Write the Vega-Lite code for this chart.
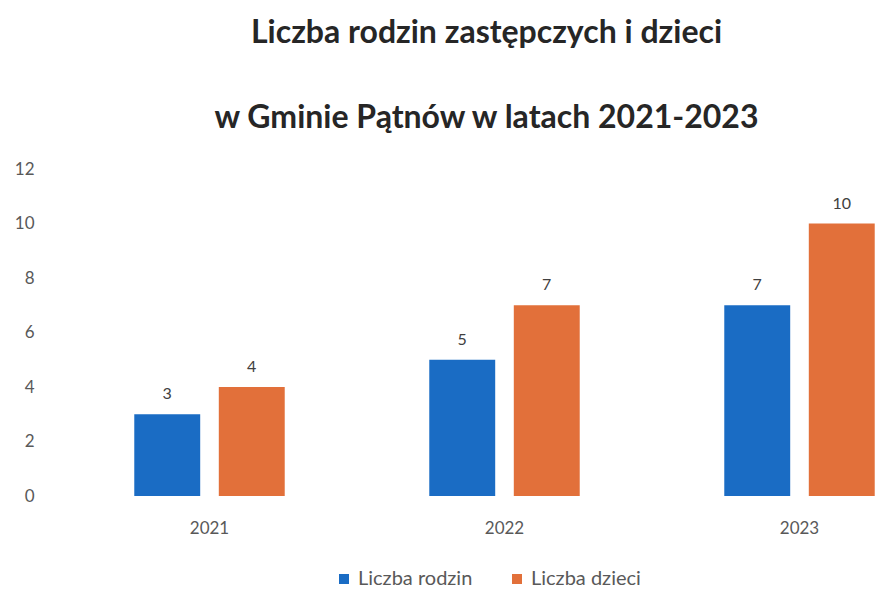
{
  "$schema": "https://vega.github.io/schema/vega-lite/v6.json",
  "width": 885,
  "height": 327,
  "autosize": {"type": "none"},
  "padding": {"left": 62, "top": 169, "right": 0, "bottom": 94},
  "background": "white",
  "title": {
    "text": ["Liczba rodzin zastępczych i dzieci", "w Gminie Pątnów w latach 2021-2023"],
    "font": "Lato",
    "fontSize": 32,
    "fontWeight": "bold",
    "color": "#262626",
    "lineHeight": 85,
    "anchor": "middle",
    "frame": "group",
    "dx": -18,
    "offset": 25
  },
  "config": {
    "view": {"stroke": null},
    "font": "Lato"
  },
  "data": {
    "values": [
      {"rok": "2021", "seria": "Liczba rodzin", "wartosc": 3},
      {"rok": "2021", "seria": "Liczba dzieci", "wartosc": 4},
      {"rok": "2022", "seria": "Liczba rodzin", "wartosc": 5},
      {"rok": "2022", "seria": "Liczba dzieci", "wartosc": 7},
      {"rok": "2023", "seria": "Liczba rodzin", "wartosc": 7},
      {"rok": "2023", "seria": "Liczba dzieci", "wartosc": 10}
    ]
  },
  "encoding": {
    "x": {
      "field": "rok",
      "type": "nominal",
      "scale": {"paddingInner": 0.49, "paddingOuter": 0.245},
      "axis": {
        "title": null,
        "labelAngle": 0,
        "domain": false,
        "ticks": false,
        "labelPadding": 24,
        "labelFontSize": 17,
        "labelColor": "#595959",
        "labelFont": "Lato"
      }
    },
    "xOffset": {
      "field": "seria",
      "type": "nominal",
      "sort": ["Liczba rodzin", "Liczba dzieci"],
      "scale": {"paddingInner": 0.22, "paddingOuter": 0}
    },
    "y": {
      "field": "wartosc",
      "type": "quantitative",
      "scale": {"domain": [0, 12]},
      "axis": {
        "title": null,
        "values": [0, 2, 4, 6, 8, 10, 12],
        "grid": false,
        "domain": false,
        "ticks": false,
        "labelPadding": 28,
        "labelFontSize": 17,
        "labelColor": "#595959",
        "labelFont": "Lato"
      }
    }
  },
  "layer": [
    {
      "mark": {"type": "bar"},
      "encoding": {
        "color": {
          "field": "seria",
          "type": "nominal",
          "sort": ["Liczba rodzin", "Liczba dzieci"],
          "scale": {"domain": ["Liczba rodzin", "Liczba dzieci"], "range": ["#1a6cc4", "#e2703a"]},
          "legend": {
            "title": null,
            "orient": "none",
            "legendX": 272,
            "legendY": 400,
            "direction": "horizontal",
            "symbolType": "square",
            "symbolSize": 100,
            "symbolStrokeWidth": 0,
            "labelFontSize": 20,
            "labelColor": "#595959",
            "labelFont": "Lato",
            "labelOffset": 4,
            "columnPadding": 34
          }
        }
      }
    },
    {
      "mark": {"type": "text", "baseline": "bottom", "dy": -12, "fontSize": 16, "color": "#404040"},
      "encoding": {"text": {"field": "wartosc", "type": "quantitative"}}
    }
  ]
}
